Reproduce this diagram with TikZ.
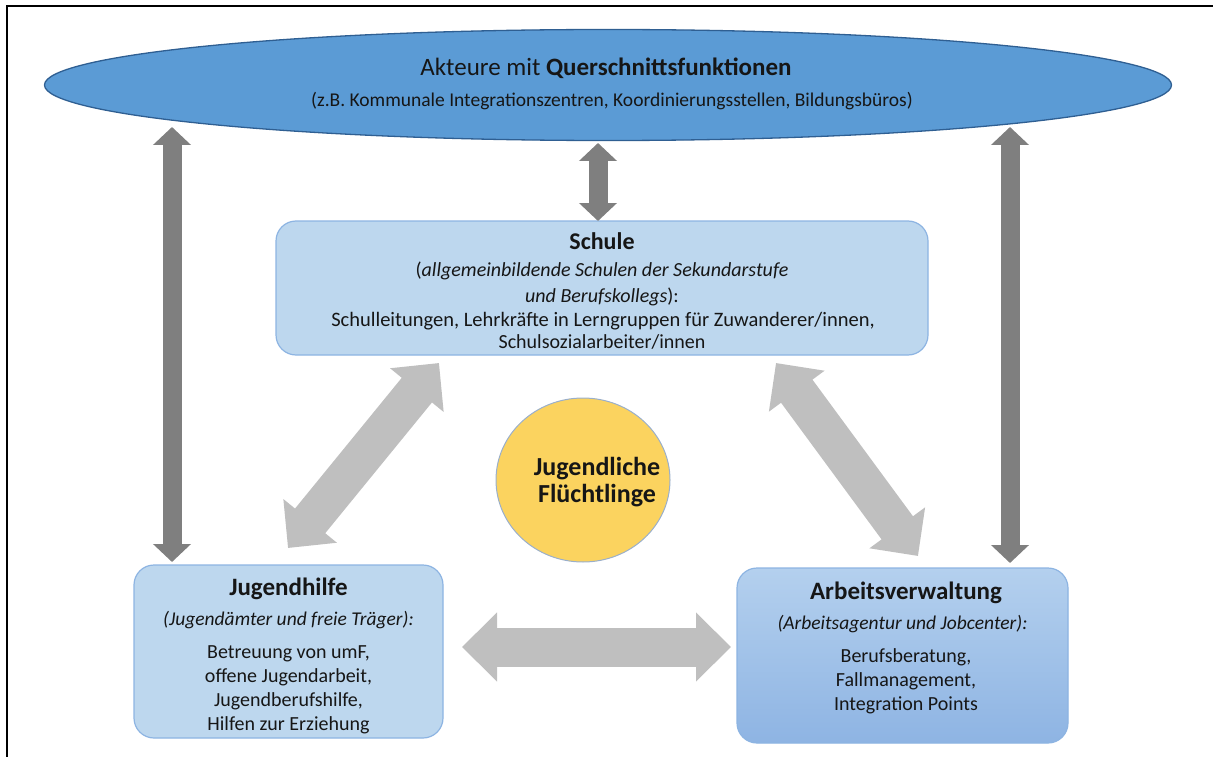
\documentclass[tikz,border=0pt]{standalone}
\usepackage{fontspec}
\setmainfont{Carlito}
\usetikzlibrary{arrows.meta,shapes.geometric}

\definecolor{ellfill}{HTML}{5B9BD5}
\definecolor{ellline}{HTML}{2F5F92}
\definecolor{boxfill}{HTML}{BDD7EE}
\definecolor{boxline}{HTML}{8DB4E2}
\definecolor{boxtop}{HTML}{B4D0EE}
\definecolor{boxbot}{HTML}{8EB4E3}
\definecolor{sunfill}{HTML}{FBD35F}
\definecolor{sunline}{HTML}{9AAFCB}
\definecolor{darkgrey}{HTML}{7F7F7F}
\definecolor{lightgrey}{HTML}{BFBFBF}
\definecolor{ink}{HTML}{161616}

\begin{document}
\begin{tikzpicture}[x=1pt,y=-1pt,
  every node/.style={inner sep=0pt, text=ink},
  roundbox/.style={draw=boxline, line width=1.2pt, rounded corners=20pt,
    fill=boxfill, minimum width=#1},
  headline/.style={anchor=base, font=\fontsize{25}{28}\selectfont\bfseries},
  subline/.style={anchor=base, font=\fontsize{19.5}{23}\selectfont\itshape},
  bodyline/.style={anchor=base, font=\fontsize{20}{23}\selectfont},
  darkarrow/.style={draw=darkgrey, line width=19pt,
    {Triangle[length=18pt,width=37pt]}-{Triangle[length=18pt,width=37pt]}},
  lightarrow/.style={draw=lightgrey, line width=39pt,
    {Triangle[length=35pt,width=67pt]}-{Triangle[length=35pt,width=67pt]}}
]
\useasboundingbox (0,0) rectangle (1213,757);

% frame
\draw[line width=2pt] (6.5,757) -- (6.5,6.5) -- (1213,6.5);

% top ellipse
\node[ellipse, draw=ellline, line width=1.3pt, fill=ellfill,
  minimum width=1127pt, minimum height=111pt] (ell) at (608,85) {};
\node[anchor=base, font=\fontsize{25}{28}\selectfont] (ellA) at (606,76)
  {Akteure mit \textbf{Querschnittsfunktionen}};
\node[anchor=base, font=\fontsize{19.5}{23}\selectfont] (ellB) at (612,107)
  {(z.B. Kommunale Integrationszentren, Koordinierungsstellen, Bildungsbüros)};

% Schule
\node[roundbox=652pt, minimum height=134pt] (sch) at (602,288) {};
\node[headline, font=\fontsize{24}{28}\selectfont\bfseries] (schA) at (602,249) {Schule};
\node[bodyline] (schB) at (602,276) {(\textit{allgemeinbildende Schulen der Sekundarstufe}};
\node[bodyline] (schC) at (602,302) {\textit{und Berufskollegs}):};
\node[bodyline, font=\fontsize{20.5}{23}\selectfont] (schD) at (603,326)
  {Schulleitungen, Lehrkräfte in Lerngruppen für Zuwanderer/innen,};
\node[bodyline] (schE) at (602,348) {Schulsozialarbeiter/innen};

% Jugendhilfe
\node[roundbox=309pt, minimum height=173pt] (jh) at (288.5,651.5) {};
\node[headline] (jhA) at (288.5,595) {Jugendhilfe};
\node[subline] (jhB) at (288.5,625) {(Jugendämter und freie Träger):};
\node[bodyline] (jhC) at (288.5,658) {Betreuung von umF,};
\node[bodyline] (jhD) at (288.5,682) {offene Jugendarbeit,};
\node[bodyline] (jhE) at (288.5,706) {Jugendberufshilfe,};
\node[bodyline] (jhF) at (288.5,730) {Hilfen zur Erziehung};

% Arbeitsverwaltung
\node[roundbox=331pt, minimum height=175pt, top color=boxtop, bottom color=boxbot,
  draw=boxline] (av) at (902.5,655.5) {};
\node[headline] (avA) at (906,599) {Arbeitsverwaltung};
\node[subline] (avB) at (902.5,629) {(Arbeitsagentur und Jobcenter):};
\node[bodyline] (avC) at (906,662) {Berufsberatung,};
\node[bodyline] (avD) at (906,686) {Fallmanagement,};
\node[bodyline] (avE) at (906,710) {Integration Points};

% centre
\node[ellipse, draw=sunline, line width=1pt, fill=sunfill,
  minimum width=174pt, minimum height=164pt] (sun) at (583,480) {};
\node[headline, font=\fontsize{26}{28}\selectfont\bfseries] (sunA) at (597,475) {Jugendliche};
\node[headline, font=\fontsize{26}{28}\selectfont\bfseries] (sunB) at (597,502) {Flüchtlinge};

% arrow end points
\coordinate (lvTop) at (172,127);
\coordinate (lvBot) at (172,562);
\coordinate (rvTop) at (1010,127);
\coordinate (rvBot) at (1010,563);
\coordinate (mvTop) at (598,143);
\coordinate (mvBot) at (598,221);
\coordinate (dlTop) at (439,363);
\coordinate (dlBot) at (288,548);
\coordinate (drTop) at (776,363);
\coordinate (drBot) at (918,556);
\coordinate (hzL) at (462,647);
\coordinate (hzR) at (731,647);

% connectors
\draw[darkarrow] (lvTop) -- (lvBot);
\draw[darkarrow] (rvTop) -- (rvBot);
\draw[darkarrow] (mvTop) -- (mvBot);
\draw[lightarrow] (dlTop) -- (dlBot);
\draw[lightarrow] (drTop) -- (drBot);
\draw[lightarrow] (hzL) -- (hzR);
\end{tikzpicture}
\end{document}
